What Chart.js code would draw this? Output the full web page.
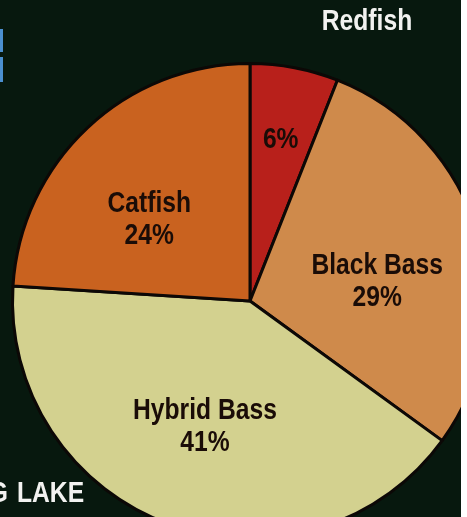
<!DOCTYPE html>
<html>
<head>
<meta charset="utf-8">
<script src="https://cdn.jsdelivr.net/npm/chart.js@4.4.1/dist/chart.umd.min.js"></script>
<style>
  html, body { margin: 0; padding: 0; overflow: hidden; background: #ffffff; }
  #wrap { position: relative; width: 467px; height: 517px; overflow: hidden; background: #ffffff; }
  #panel { position: absolute; left: 0; top: 0; width: 461px; height: 517px; overflow: hidden; background: #07180e; }
  .tab { position: absolute; left: 0; width: 3px; background: #4b8fd0; }
  #fishChart { position: absolute; left: 0; top: 0; }
</style>
</head>
<body>
<div id="wrap">
  <div id="panel">
    <canvas id="fishChart" width="500" height="602"></canvas>
    <div class="tab" style="top:29px;height:23px"></div>
    <div class="tab" style="top:57px;height:25px"></div>
  </div>
</div>
<script>
// catch share by species, clockwise from the top
const species = ['Redfish', 'Black Bass', 'Hybrid Bass', 'Catfish'];
const shares = [6, 29, 41, 24];
const sliceColors = ['#b8201b', '#cf8a4b', '#d3d18f', '#c9621f'];

const labelFont = 'bold 29px "Liberation Sans", Arial, sans-serif';
const squeeze = 0.85; // condensed look

// where each slice label sits: fraction of radius along the bisector, plus a nudge
const labelPlacement = [
    { frac: 0.69, dx: 0, dy: 0, showName: false },
    { frac: 0.54, dx: 4, dy: 16, showName: true },
    { frac: 0.56, dx: 0, dy: 0, showName: true },
    { frac: 0.546, dx: -12, dy: 13, showName: true }
];

function narrowText(ctx, text, x, y) {
    ctx.save();
    ctx.translate(x, y);
    ctx.scale(squeeze, 1);
    ctx.fillText(text, 0, 0);
    ctx.restore();
}

const sliceLabels = {
    id: 'sliceLabels',
    afterDatasetsDraw(chart) {
        const ctx = chart.ctx;
        const arcs = chart.getDatasetMeta(0).data;
        ctx.save();
        ctx.fillStyle = '#1a0c07';
        ctx.textAlign = 'center';
        ctx.textBaseline = 'middle';
        ctx.font = labelFont;
        arcs.forEach((arc, i) => {
            const p = arc.getProps(['x', 'y', 'startAngle', 'endAngle', 'outerRadius'], true);
            const mid = (p.startAngle + p.endAngle) / 2;
            const place = labelPlacement[i];
            const r = p.outerRadius * place.frac;
            const cx = p.x + Math.cos(mid) * r + place.dx;
            const cy = p.y + Math.sin(mid) * r + place.dy;
            const pct = shares[i] + '%';
            if (place.showName) {
                narrowText(ctx, species[i], cx, cy - 15);
                narrowText(ctx, pct, cx, cy + 17);
            } else {
                narrowText(ctx, pct, cx, cy);
            }
        });

        // white captions on the dark background
        ctx.fillStyle = '#f2f2f0';
        narrowText(ctx, species[0], 367, 22);
        ctx.textAlign = 'left';
        narrowText(ctx, 'LAKE', 17, 494);
        ctx.textAlign = 'right';
        narrowText(ctx, 'G', 8, 494);
        ctx.restore();
    }
};

new Chart(document.getElementById('fishChart'), {
    type: 'pie',
    data: {
        labels: species,
        datasets: [{
            data: shares,
            backgroundColor: sliceColors,
            borderColor: '#0c0806',
            borderWidth: 3
        }]
    },
    options: {
        responsive: false,
        animation: false,
        layout: { padding: 11 },
        plugins: {
            legend: { display: false },
            tooltip: { enabled: false }
        }
    },
    plugins: [sliceLabels]
});
</script>
</body>
</html>
